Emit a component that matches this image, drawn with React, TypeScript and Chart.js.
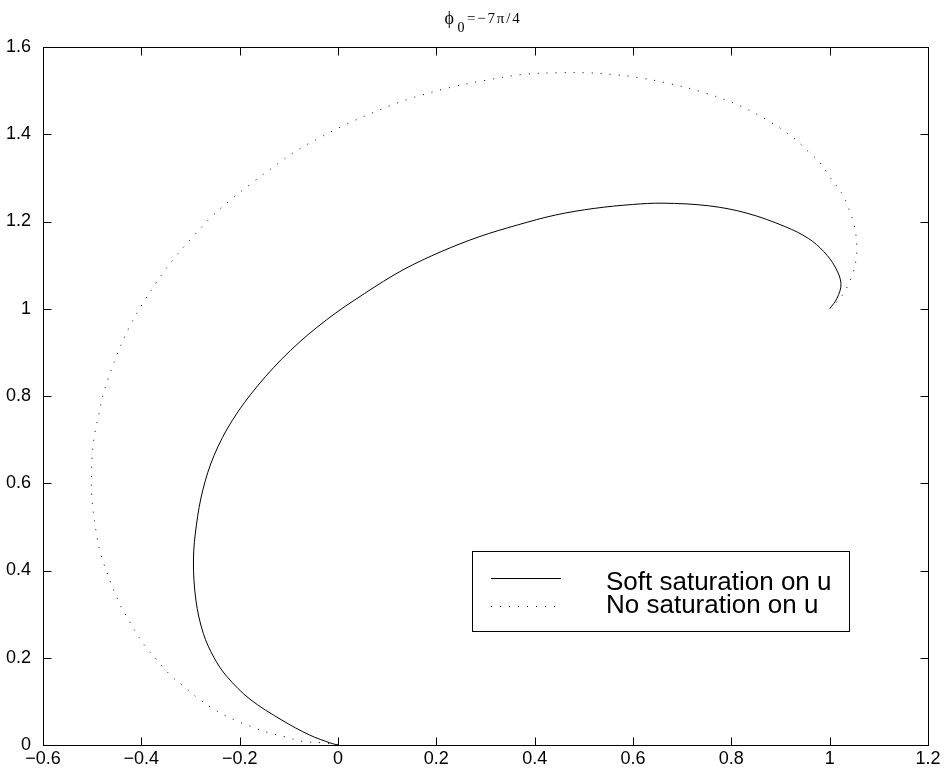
import React, { useEffect, useRef } from 'react';
import { Chart, registerables } from 'chart.js';

Chart.register(...registerables);

const xTicks = [-0.6, -0.4, -0.2, 0, 0.2, 0.4, 0.6, 0.8, 1, 1.2];
const yTicks = [0, 0.2, 0.4, 0.6, 0.8, 1, 1.2, 1.4, 1.6];

const softLabel = 'Soft saturation on u';
const noSatLabel = 'No saturation on u';

const softX = [0, -0.014, -0.058, -0.114, -0.179, -0.226, -0.252, -0.274, -0.289, -0.294, -0.288, -0.275, -0.252, -0.215, -0.163, -0.097, -0.024, 0.054, 0.132, 0.210, 0.287, 0.365, 0.443, 0.521, 0.599, 0.661, 0.754, 0.832, 0.910, 0.957, 0.988, 1.011, 1.023, 1.015, 1.0];
const softY = [0, 0.004, 0.023, 0.057, 0.105, 0.157, 0.200, 0.256, 0.332, 0.424, 0.504, 0.584, 0.664, 0.744, 0.824, 0.904, 0.974, 1.035, 1.089, 1.131, 1.165, 1.192, 1.215, 1.230, 1.239, 1.242, 1.236, 1.219, 1.188, 1.161, 1.131, 1.096, 1.058, 1.024, 1.0];

const noSatX = [0, -0.031, -0.071, -0.105, -0.141, -0.176, -0.210, -0.248, -0.282, -0.310, -0.339, -0.364, -0.389, -0.410, -0.428, -0.446, -0.480, -0.492, -0.501, -0.501, -0.499, -0.494, -0.486, -0.478, -0.467, -0.448, -0.424, -0.397, -0.366, -0.333, -0.296, -0.258, -0.217, -0.173, -0.129, -0.082, -0.034, 0.017, 0.068, 0.119, 0.156, 0.227, 0.302, 0.375, 0.447, 0.505, 0.559, 0.610, 0.671, 0.743, 0.814, 0.878, 0.926, 0.953, 0.980, 1.002, 1.024, 1.039, 1.050, 1.055, 1.053, 1.042, 1.025, 1.010];
const noSatY = [0, 0.005, 0.008, 0.018, 0.028, 0.042, 0.057, 0.079, 0.105, 0.131, 0.158, 0.189, 0.222, 0.256, 0.291, 0.328, 0.428, 0.489, 0.573, 0.634, 0.676, 0.718, 0.760, 0.802, 0.841, 0.899, 0.959, 1.012, 1.066, 1.116, 1.164, 1.210, 1.251, 1.290, 1.327, 1.364, 1.394, 1.423, 1.448, 1.471, 1.485, 1.507, 1.524, 1.537, 1.541, 1.541, 1.537, 1.530, 1.517, 1.496, 1.467, 1.429, 1.392, 1.364, 1.335, 1.299, 1.266, 1.229, 1.190, 1.148, 1.108, 1.066, 1.030, 1.010];

const toPts = (xs: number[], ys: number[]) => xs.map((x, i) => ({ x, y: ys[i] }));

const fmt = (v: number) => {
  const r = Math.round(v * 10) / 10;
  return String(r).replace('-', '\u2212');
};

const framePlugin = {
  id: 'matlabFrame',
  afterDraw(chart: any) {
    const { ctx, chartArea: a, scales } = chart;
    ctx.save();
    ctx.strokeStyle = '#000';
    ctx.lineWidth = 1;
    const L = Math.round(a.left) + 0.5;
    const R = Math.round(a.right) + 0.5;
    const T = Math.round(a.top) + 0.5;
    const B = Math.round(a.bottom) + 0.5;
    ctx.strokeRect(L, T, R - L, B - T);
    const len = 8;
    ctx.beginPath();
    for (const v of xTicks) {
      const x = Math.round(scales.x.getPixelForValue(v)) + 0.5;
      ctx.moveTo(x, B); ctx.lineTo(x, B - len);
      ctx.moveTo(x, T); ctx.lineTo(x, T + len);
    }
    for (const v of yTicks) {
      const y = Math.round(scales.y.getPixelForValue(v)) + 0.5;
      ctx.moveTo(L, y); ctx.lineTo(L + len, y);
      ctx.moveTo(R, y); ctx.lineTo(R - len, y);
    }
    ctx.stroke();

    // legend box
    const bx = 472.5, by = 551.5, bw = 377, bh = 80;
    ctx.fillStyle = '#fff';
    ctx.fillRect(bx, by, bw, bh);
    ctx.strokeRect(bx, by, bw, bh);
    const ds = chart.data.datasets;
    const rows = [578.5, 606.5];
    const base = [590, 613];
    ds.forEach((d: any, i: number) => {
      ctx.save();
      ctx.strokeStyle = d.borderColor;
      ctx.lineWidth = d.borderWidth;
      ctx.setLineDash(d.borderDash || []);
      ctx.beginPath();
      ctx.moveTo(491, rows[i]);
      ctx.lineTo(561, rows[i]);
      ctx.stroke();
      ctx.restore();
      ctx.fillStyle = '#000';
      ctx.font = '26px "Liberation Sans", Arial, sans-serif';
      ctx.textAlign = 'left';
      ctx.textBaseline = 'alphabetic';
      ctx.fillText(d.label, 606, base[i]);
    });

    // title: phi_0 = -7pi/4
    const cx = (a.left + a.right) / 2;
    ctx.fillStyle = '#000';
    ctx.textAlign = 'left';
    ctx.textBaseline = 'alphabetic';
    ctx.font = '18px "Liberation Serif", "Times New Roman", serif';
    ctx.fillText('\u03d5', cx - 41, 24);
    ctx.font = '14px "Liberation Serif", "Times New Roman", serif';
    ctx.fillText('0', cx - 28, 31.5);
    (ctx as any).letterSpacing = '1.8px';
    ctx.font = '15px "Liberation Serif", "Times New Roman", serif';
    ctx.fillText('=\u22127\u03c0/4', cx - 18.5, 23);
    (ctx as any).letterSpacing = '0px';
    ctx.restore();
  },
};

export default function App() {
  const ref = useRef<HTMLCanvasElement | null>(null);

  useEffect(() => {
    document.body.style.margin = '0';
    document.body.style.overflow = 'hidden';
    const canvas = ref.current;
    if (!canvas) return;
    const tickFont = { family: '"Liberation Sans", Arial, sans-serif', size: 18 };
    const chart = new Chart(canvas, {
      type: 'scatter',
      data: {
        datasets: [
          {
            label: softLabel,
            data: toPts(softX, softY),
            showLine: true,
            borderColor: '#000',
            borderWidth: 1,
            pointRadius: 0,
            tension: 0.35,
            fill: false,
          },
          {
            label: noSatLabel,
            data: toPts(noSatX, noSatY),
            showLine: true,
            borderColor: '#000',
            borderWidth: 1,
            borderDash: [1, 8],
            borderCapStyle: 'butt',
            pointRadius: 0,
            tension: 0.35,
            fill: false,
          },
        ],
      } as any,
      options: {
        animation: false,
        responsive: false,
        maintainAspectRatio: false,
        layout: { padding: { top: 47, right: 18, left: 0, bottom: 0 } },
        plugins: { legend: { display: false }, title: { display: false }, tooltip: { enabled: false } },
        scales: {
          x: {
            type: 'linear',
            min: -0.6,
            max: 1.2,
            afterBuildTicks: (s: any) => { s.ticks = xTicks.map((v) => ({ value: v })); },
            afterFit: (s: any) => { s.height = 35; },
            grid: { display: false, drawTicks: false },
            border: { display: false },
            ticks: { color: '#000', font: tickFont, padding: 3, maxRotation: 0, autoSkip: false, callback: (v: any) => fmt(Number(v)) },
          },
          y: {
            type: 'linear',
            min: 0,
            max: 1.6,
            afterBuildTicks: (s: any) => { s.ticks = yTicks.map((v) => ({ value: v })); },
            afterFit: (s: any) => { s.width = 43; },
            grid: { display: false, drawTicks: false },
            border: { display: false },
            ticks: { color: '#000', font: tickFont, padding: 12, autoSkip: false, callback: (v: any) => fmt(Number(v)) },
          },
        },
      } as any,
      plugins: [framePlugin],
    });
    return () => chart.destroy();
  }, []);

  return (
    <div style={{ width: 946, height: 780, background: '#fff' }}>
      <canvas ref={ref} width={946} height={780} style={{ display: 'block', width: 946, height: 780 }} />
    </div>
  );
}
